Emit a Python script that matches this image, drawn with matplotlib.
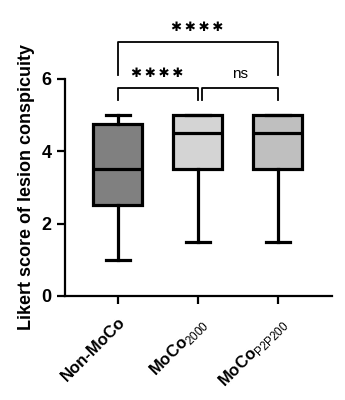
import matplotlib
matplotlib.use('Agg')
import matplotlib.pyplot as plt

plt.rcParams['font.family'] = ['Liberation Sans', 'DejaVu Sans']
plt.rcParams['mathtext.fontset'] = 'custom'
plt.rcParams['mathtext.rm'] = 'Liberation Sans'
plt.rcParams['mathtext.bf'] = 'Liberation Sans:bold'

# box statistics
labels_main = ['Non-MoCo', 'MoCo', 'MoCo']
labels_sub = ['', '2000', 'P2P200']
whislo = [1.0, 1.5, 1.5]
q1 = [2.5, 3.5, 3.5]
med = [3.5, 4.5, 4.5]
q3 = [4.75, 5.0, 5.0]
whishi = [5.0, 5.0, 5.0]
colors = ['#808080', '#d4d4d4', '#bfbfbf']

# significance brackets: (left group, right group, bar height, leg bottom, text)
brackets = [(0, 1, 5.73, 5.4, '****'),
            (1.05, 2, 5.73, 5.4, 'ns'),
            (0, 2, 7.0, 6.1, '****')]

stats = []
for i in range(3):
    stats.append(dict(whislo=whislo[i], q1=q1[i], med=med[i], q3=q3[i],
                      whishi=whishi[i], fliers=[]))

fig = plt.figure(figsize=(3.45, 4), dpi=100)
ax = fig.add_axes([0.188, 0.26, 0.774, 0.725])

lw = 2.3
bp = ax.bxp(stats, positions=[0, 1, 2], widths=0.62, patch_artist=True,
            showfliers=False, capwidths=0.3,
            boxprops=dict(linewidth=lw, edgecolor='black'),
            medianprops=dict(color='black', linewidth=lw),
            whiskerprops=dict(color='black', linewidth=lw),
            capprops=dict(color='black', linewidth=lw))
for patch, c in zip(bp['boxes'], colors):
    patch.set_facecolor(c)

for x0, x1, h, b, txt in brackets:
    ax.plot([x0, x0, x1, x1], [b, h, h, b], color='black', lw=1.3,
            clip_on=False)
    if txt == 'ns':
        ax.text((x0 + x1) / 2, h + 0.2, txt, ha='center', va='bottom',
                fontsize=11)
    else:
        ax.text((x0 + x1) / 2, h + 0.22, '\u2731\u2009\u2731\u2009\u2731\u2009\u2731',
                ha='center', va='bottom', fontsize=9.5, family='DejaVu Sans')

ax.set_xlim(-0.66, 2.68)
ax.set_ylim(0, 8)
ax.spines['top'].set_visible(False)
ax.spines['right'].set_visible(False)
ax.spines['left'].set_bounds(0, 6)
ax.spines['left'].set_linewidth(1.6)
ax.spines['bottom'].set_linewidth(1.6)
ax.set_yticks([0, 2, 4, 6])
ax.tick_params(width=1.6, length=6)
for t in ax.get_yticklabels():
    t.set_fontweight('bold')
    t.set_fontsize(13)

ax.set_xticks([0, 1, 2])
ax.set_xticklabels([])
for i in range(3):
    if labels_sub[i]:
        lab = r'$\mathbf{%s}_{\mathrm{%s}}$' % (labels_main[i], labels_sub[i])
    else:
        lab = labels_main[i]
    ax.text(i + 0.0, -0.5, lab, rotation=45, ha='right', va='top',
            fontsize=12, fontweight='bold', rotation_mode='anchor')

ax.set_ylabel('Likert score of lesion conspicuity', fontsize=13,
              fontweight='bold')
ax.yaxis.set_label_coords(-0.11, 3 / 8)

plt.savefig('out.png', dpi=100)
